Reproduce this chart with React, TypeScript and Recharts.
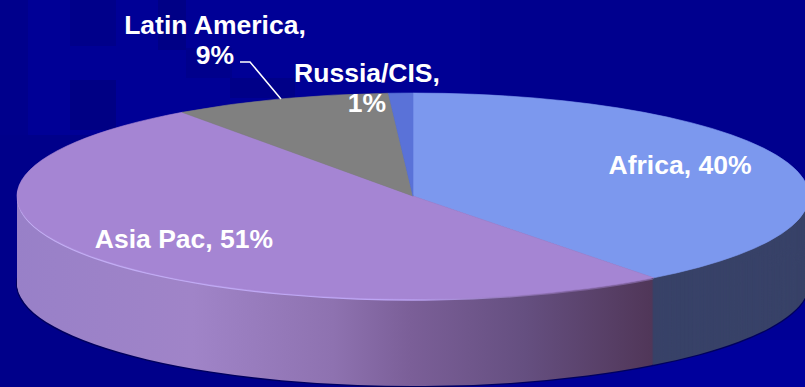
import { PieChart, Pie, Cell } from 'recharts'

const regions = ['Africa', 'Asia Pac', 'Latin America', 'Russia/CIS']
const shares = [40, 51, 9, 1]
const topColors = ['#7c98ee', '#a585d3', '#808080', '#5a72d8']
const sideFills = ['#384268', 'url(#asiaSide)', '#555555', '#3c4a80']
const rimFills = ['none', 'url(#asiaRim)', 'none', 'none']
const shadowFills = ['#00005e', '#00005e', '#00005e', '#00005e']

const pieData = regions.map((name, i) => ({ name, value: shares[i] }))

// tilted disc: drawn as a circle, squashed vertically with css
const RADIUS = 396
const CENTER_X = 413
const CENTER_Y = 196
const SQUASH = 103 / 396
const DEPTH = 87
const CHART_W = RADIUS * 2 + 8
const CHART_H = Math.ceil(RADIUS * 2 + 8 + (DEPTH + 4) / SQUASH)
const LEFT = CENTER_X - CHART_W / 2
const TOP = CENTER_Y - (RADIUS + 4) * SQUASH
const CY = RADIUS + 4

const depthLayers = Array.from({ length: DEPTH }, (_, i) => DEPTH - i)

// watermark blocks behind the pie
const darkBlocks: [number, number, number, number, string][] = [
  [0, 0, 28, 387, '#00008c'],
  [70, 0, 46, 46, '#00008a'],
  [70, 80, 46, 50, '#000084'],
  [158, 0, 28, 50, '#000086'],
  [186, 48, 46, 30, '#00008c'],
  [230, 78, 65, 20, '#000088'],
  [0, 135, 120, 252, '#00008a'],
  [120, 290, 300, 97, '#00008a'],
  [440, 0, 40, 93, '#000094'],
  [480, 0, 325, 190, '#00008e'],
  [640, 340, 165, 47, '#00009c'],
]

const labelFont = { fontFamily: '"Liberation Sans", Arial, sans-serif', fontWeight: 700, fontSize: 26.5, fill: '#ffffff' }

function DiscLayer({ offset, fills, radius = RADIUS, seal = false }: { offset: number; fills: string[]; radius?: number; seal?: boolean }) {
  return (
    <Pie
      data={pieData}
      dataKey="value"
      cx={CHART_W / 2}
      cy={CY + offset / SQUASH}
      outerRadius={radius}
      startAngle={90}
      endAngle={-270}
      stroke="none"
      isAnimationActive={false}
    >
      {pieData.map((d, i) => (
        // seal closes the hairline gaps between neighbouring slices
        <Cell key={d.name} fill={fills[i]} stroke={seal ? fills[i] : 'none'} strokeWidth={seal ? 1 : 0} />
      ))}
    </Pie>
  )
}

export default function App() {
  return (
    <div style={{ position: 'absolute', top: 0, left: 0, width: 805, height: 387, overflow: 'hidden', background: '#000096' }}>
      {darkBlocks.map(([x, y, w, h, c], i) => (
        <div key={i} style={{ position: 'absolute', left: x, top: y, width: w, height: h, background: c }} />
      ))}

      <div style={{ position: 'absolute', left: LEFT, top: TOP, transform: `scaleY(${SQUASH})`, transformOrigin: 'top left' }}>
        <PieChart width={CHART_W} height={CHART_H} margin={{ top: 0, right: 0, bottom: 0, left: 0 }}>
          <defs>
            <linearGradient id="asiaSide" gradientUnits="userSpaceOnUse" x1={0} x2={640} y1={0} y2={0}>
              <stop offset="0" stopColor="#9880c8" />
              <stop offset="0.28" stopColor="#a084c8" />
              <stop offset="0.5" stopColor="#8e72b0" />
              <stop offset="0.62" stopColor="#7b5f98" />
              <stop offset="0.8" stopColor="#654f80" />
              <stop offset="1" stopColor="#503658" />
            </linearGradient>
            <linearGradient id="asiaRim" gradientUnits="userSpaceOnUse" x1={0} x2={560} y1={0} y2={0}>
              <stop offset="0" stopColor="#c4b0f4" />
              <stop offset="0.7" stopColor="#bca4f4" />
              <stop offset="1" stopColor="#7b5f98" />
            </linearGradient>
          </defs>
          <DiscLayer offset={DEPTH + 1} fills={shadowFills} radius={RADIUS + 1} />
          {depthLayers.map((d) => (
            <DiscLayer key={d} offset={d} fills={sideFills} />
          ))}
          <DiscLayer offset={1.6} fills={rimFills} />
          <DiscLayer offset={0} fills={topColors} seal />
        </PieChart>
      </div>

      <svg width={805} height={387} style={{ position: 'absolute', left: 0, top: 0 }}>
        <polyline points="240,62 250,62 281,99" fill="none" stroke="#ffffff" strokeWidth={1.5} />
        <text x={215} y={34} textAnchor="middle" {...labelFont}>{regions[2]},</text>
        <text x={215} y={64} textAnchor="middle" {...labelFont}>{shares[2]}%</text>
        <text x={367} y={82} textAnchor="middle" {...labelFont}>{regions[3]},</text>
        <text x={367} y={112} textAnchor="middle" {...labelFont}>{shares[3]}%</text>
        <text x={680} y={174} textAnchor="middle" {...labelFont}>{regions[0]}, {shares[0]}%</text>
        <text x={184} y={248} textAnchor="middle" {...labelFont}>{regions[1]}, {shares[1]}%</text>
      </svg>
    </div>
  )
}
